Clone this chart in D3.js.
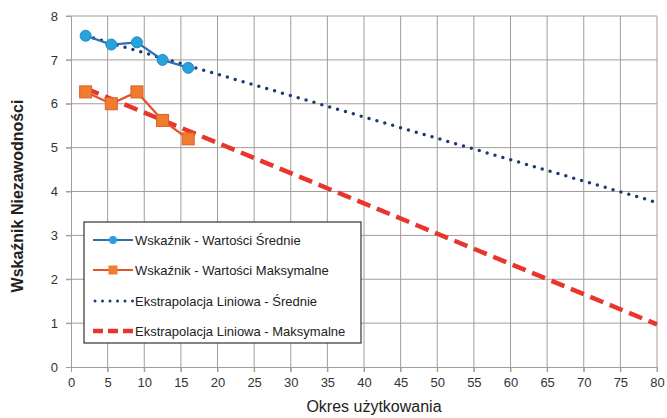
<!DOCTYPE html>
<html><head><meta charset="utf-8">
<script src="https://cdn.jsdelivr.net/npm/d3@7"></script>
<style>body{margin:0;background:#fff;} text{font-family:"Liberation Sans",Arial,sans-serif;}</style>
</head><body><svg id="c" width="667" height="418"></svg>
<script>
const xYears = [2, 5.5, 9, 12.5, 16];
const sredniValues = [7.55, 7.35, 7.4, 7.0, 6.82];
const maksValues = [6.27, 6.0, 6.27, 5.62, 5.2];
const trendX = [2, 80];
const trendSrednie = [7.55, 3.75];
const trendMaks = [6.35, 0.97];
const xTicks = [0,5,10,15,20,25,30,35,40,45,50,55,60,65,70,75,80];
const yTicks = [0,1,2,3,4,5,6,7,8];
const legendLabels = ["Wskaźnik - Wartości Średnie","Wskaźnik - Wartości Maksymalne","Ekstrapolacja Liniowa - Średnie","Ekstrapolacja Liniowa - Maksymalne"];

const svg = d3.select("#c");
const L=71, R=657, T=16, B=367;
const x = d3.scaleLinear().domain([0,80]).range([L,R]);
const y = d3.scaleLinear().domain([0,8]).range([B,T]);
const grid = "#a39d9a";

// grid
svg.append("g").selectAll("line.v").data(xTicks.filter(d=>d>0)).join("line")
  .attr("x1",d=>x(d)).attr("x2",d=>x(d)).attr("y1",T).attr("y2",B+5)
  .attr("stroke",grid).attr("stroke-width",1);
svg.append("g").selectAll("line.h").data(yTicks.filter(d=>d>0)).join("line")
  .attr("x1",L-5).attr("x2",R).attr("y1",d=>y(d)).attr("y2",d=>y(d))
  .attr("stroke",grid).attr("stroke-width",1);
// axes
const xa = svg.append("g").attr("transform",`translate(0,${B})`)
  .call(d3.axisBottom(x).tickValues(xTicks).tickSize(5).tickPadding(6));
const ya = svg.append("g").attr("transform",`translate(${L},0)`)
  .call(d3.axisLeft(y).tickValues(yTicks).tickSize(5).tickPadding(8));
[xa,ya].forEach(a=>{a.select(".domain").attr("stroke",grid);
  a.selectAll(".tick line").attr("stroke",grid);
  a.selectAll("text").attr("fill","#333").attr("font-size",13).style("font-family","Liberation Sans, Arial");});

// trend lines
const line = d3.line().x(d=>x(d[0])).y(d=>y(d[1]));
svg.append("path").attr("d",line(d3.zip(trendX,trendMaks)))
  .attr("fill","none").attr("stroke","#e8352e").attr("stroke-width",4.5).attr("stroke-dasharray","14,7");
svg.append("path").attr("d",line(d3.zip(trendX,trendSrednie)))
  .attr("fill","none").attr("stroke","#1f3a78").attr("stroke-width",3.5)
  .attr("stroke-linecap","round").attr("stroke-dasharray","0,8.2");

// series
svg.append("path").attr("d",line(d3.zip(xYears,maksValues)))
  .attr("fill","none").attr("stroke","#e8502a").attr("stroke-width",2.2);
svg.append("g").selectAll("rect").data(d3.zip(xYears,maksValues)).join("rect")
  .attr("x",d=>x(d[0])-6).attr("y",d=>y(d[1])-6).attr("width",12).attr("height",12)
  .attr("fill","#f07c2e").attr("stroke","#d9602a").attr("stroke-width",1);
svg.append("path").attr("d",line(d3.zip(xYears,sredniValues)))
  .attr("fill","none").attr("stroke","#2e6db4").attr("stroke-width",2.2);
svg.append("g").selectAll("circle").data(d3.zip(xYears,sredniValues)).join("circle")
  .attr("cx",d=>x(d[0])).attr("cy",d=>y(d[1])).attr("r",5.5)
  .attr("fill","#27a2dc").attr("stroke","#1e8bc8").attr("stroke-width",1);

// legend
const lg = svg.append("g");
lg.append("rect").attr("x",84).attr("y",222).attr("width",277).attr("height",121)
  .attr("fill","#fff").attr("stroke","#333").attr("stroke-width",1.2);
const ly = [240,270,301,331];
const lx0=93, lx1=133;
lg.append("line").attr("x1",lx0).attr("x2",lx1).attr("y1",ly[0]).attr("y2",ly[0]).attr("stroke","#2e6db4").attr("stroke-width",2.2);
lg.append("circle").attr("cx",(lx0+lx1)/2).attr("cy",ly[0]).attr("r",4).attr("fill","#27a2dc");
lg.append("line").attr("x1",lx0).attr("x2",lx1).attr("y1",ly[1]).attr("y2",ly[1]).attr("stroke","#e8502a").attr("stroke-width",2.2);
lg.append("rect").attr("x",(lx0+lx1)/2-4.5).attr("y",ly[1]-4.5).attr("width",9).attr("height",9).attr("fill","#f07c2e");
lg.append("line").attr("x1",lx0+2).attr("x2",lx1).attr("y1",ly[2]).attr("y2",ly[2]).attr("stroke","#1f3a78").attr("stroke-width",3)
  .attr("stroke-linecap","round").attr("stroke-dasharray","0,7.5");
lg.append("line").attr("x1",lx0).attr("x2",lx1).attr("y1",ly[3]).attr("y2",ly[3]).attr("stroke","#e8352e").attr("stroke-width",4.5).attr("stroke-dasharray","10,5");
lg.selectAll("text").data(legendLabels).join("text")
  .attr("x",lx1+2).attr("y",(d,i)=>ly[i]).attr("dy","0.35em")
  .attr("font-size",13).attr("fill","#222").text(d=>d);

// titles
svg.append("text").attr("transform","translate(23,196) rotate(-90)")
  .attr("text-anchor","middle").attr("font-size",16).attr("font-weight","bold").attr("fill","#222")
  .text("Wskaźnik Niezawodności");
svg.append("text").attr("x",374).attr("y",412).attr("text-anchor","middle")
  .attr("font-size",16).attr("fill","#222").text("Okres użytkowania");
</script></body></html>
